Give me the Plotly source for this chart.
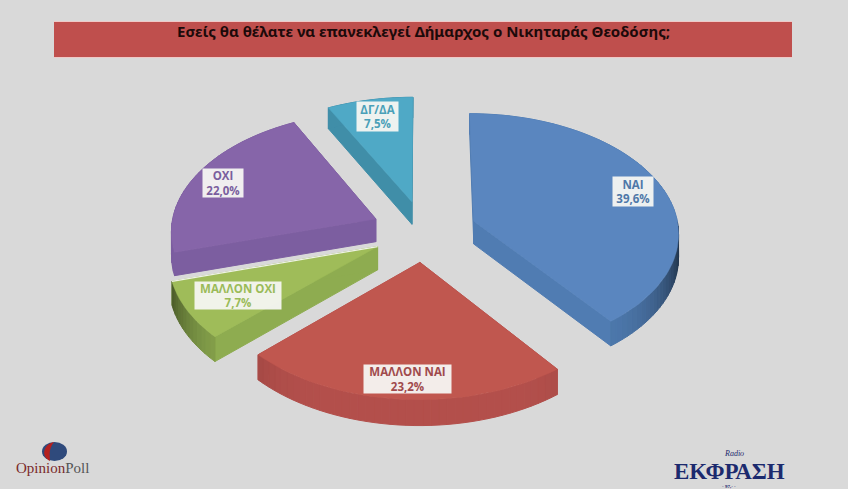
import math
import plotly.graph_objects as go

categories = ["ΝΑΙ", "ΜΑΛΛΟΝ ΝΑΙ", "ΜΑΛΛΟΝ ΟΧΙ", "ΟΧΙ", "ΔΓ/ΔΑ"]
values = [39.6, 23.2, 7.7, 22.0, 7.5]
title_text = "Εσείς θα θέλατε να επανεκλεγεί Δήμαρχος ο Νικηταράς Θεοδόσης;"

top_colors = ["#5a86bf", "#c0574f", "#9fbc59", "#8665a9", "#4fa9c6"]
side_colors = [(80, 124, 178), (180, 80, 76), (142, 172, 80), (124, 94, 160), (64, 142, 168)]
text_colors = ["#4f78a8", "#a04a4c", "#9bbb59", "#7a5e9e", "#4aa0b8"]
label_centers = [(633, 191), (407, 379), (238, 295), (223, 183), (377, 116)]
label_sizes = [(40, 29), (87, 28), (86, 27), (40, 28), (41, 29)]

CX, CY, R, TILT, PERSP, EXPLODE, DEPTH = 424, 231, 205, 0.58, 0.09, 53, 23
draw_order = [4, 3, 2, 0, 1]
EDGE_HIGHLIGHT_SLICE = 2


def project(gx, gy, drop=0.0):
    s = 1 / (1 + PERSP * gy / R)
    return CX + gx * s, CY - gy * TILT * s + drop * s


def slice_geometry(start, sweep):
    mid = math.radians(start + sweep / 2)
    ox, oy = EXPLODE * math.sin(mid), EXPLODE * math.cos(mid)
    n = max(6, int(sweep / 2))
    rim = []
    for i in range(n + 1):
        a = math.radians(start + sweep * i / n)
        rim.append((ox + R * math.sin(a), oy + R * math.cos(a), start + sweep * i / n))
    return (ox, oy), rim


def poly(points, color, width=1.0):
    xs, ys = zip(*points)
    return go.Scatter(x=list(xs) + [xs[0]], y=list(ys) + [ys[0]], mode="lines", fill="toself",
                      fillcolor=color, line=dict(color=color, width=width),
                      hoverinfo="skip", showlegend=False)


def rgb(c, f=1.0):
    return "rgb(%d,%d,%d)" % tuple(min(255, int(v * f)) for v in c)


def rim_shade(angle):
    rad = math.radians(angle)
    if math.cos(rad) >= 0 or angle > 253:
        return 1.0
    return 1.0 - 0.6 * abs(math.sin(rad)) ** 6


fig = go.Figure()
angles = []
acc = 0.0
for v in values:
    angles.append((acc * 3.6, v * 3.6))
    acc += v

for idx in draw_order:
    start, sweep = angles[idx]
    apex, rim = slice_geometry(start, sweep)
    side = side_colors[idx]
    for end in (rim[0], rim[-1]):
        fig.add_trace(poly([project(apex[0], apex[1]), project(end[0], end[1]),
                            project(end[0], end[1], DEPTH), project(apex[0], apex[1], DEPTH)], rgb(side)))
    for p, q in zip(rim, rim[1:]):
        fig.add_trace(poly([project(p[0], p[1]), project(q[0], q[1]),
                            project(q[0], q[1], DEPTH), project(p[0], p[1], DEPTH)], rgb(side, rim_shade(p[2]))))
    top = [project(apex[0], apex[1])] + [project(p[0], p[1]) for p in rim]
    fig.add_trace(poly(top, top_colors[idx], 0.5))
    if idx == EDGE_HIGHLIGHT_SLICE:
        a, b = project(apex[0], apex[1]), project(rim[-1][0], rim[-1][1])
        fig.add_trace(go.Scatter(x=[a[0], b[0]], y=[a[1], b[1]], mode="lines",
                                 line=dict(color="#eef2e6", width=1.2), hoverinfo="skip", showlegend=False))

annotations = []
for name, v, col, (lx, ly), (w, h) in zip(categories, values, text_colors, label_centers, label_sizes):
    annotations.append(dict(x=lx, y=ly, xref="x", yref="y", showarrow=False,
                            text="<b>%s</b><br><b>%s%%</b>" % (name, ("%.1f" % v).replace(".", ",")),
                            font=dict(family="Open Sans", size=11.5, color=col), align="center",
                            bgcolor="rgba(245,245,242,0.95)", width=w, height=h, borderpad=0))
annotations += [
    dict(x=423, y=31, xref="x", yref="y", showarrow=False, text="<b>%s</b>" % title_text,
         font=dict(family="Noto Sans", size=15, color="#1c0a0a")),
    dict(x=14, y=468, xref="x", yref="y", showarrow=False, xanchor="left",
         text="<span style='color:#7a2a2a'>Opinion</span><span style='color:#555'>Poll</span>",
         font=dict(family="Liberation Serif", size=15)),
    dict(x=729, y=471, xref="x", yref="y", showarrow=False, text="<b>ΕΚΦΡΑΣΗ</b>",
         font=dict(family="Liberation Serif", size=23, color="#1c2a6e")),
    dict(x=734, y=453, xref="x", yref="y", showarrow=False, text="<i>Radio</i>",
         font=dict(family="Liberation Serif", size=8, color="#1c2a6e")),
    dict(x=729, y=486, xref="x", yref="y", showarrow=False, text="<b>· 97,· ·</b>",
         font=dict(family="Liberation Serif", size=5, color="#1c2a6e")),
]

shapes = [
    dict(type="rect", x0=54, x1=792, y0=21, y1=58, xref="x", yref="y", layer="below",
         fillcolor="#efc9c7", line=dict(width=0)),
    dict(type="rect", x0=54, x1=792, y0=22, y1=57, xref="x", yref="y", layer="below",
         fillcolor="#bf4f4d", line=dict(width=0)),
    dict(type="circle", x0=42, x1=67, y0=442, y1=461, xref="x", yref="y",
         fillcolor="#2f4a7c", line=dict(width=0)),
    dict(type="path", path="M 54 442 C 44 444 40 456 50 461 C 50 455 48 450 54 442 Z", xref="x", yref="y",
         fillcolor="#b4201f", line=dict(width=0)),
]

fig.update_layout(width=848, height=489, margin=dict(l=0, r=0, t=0, b=0),
                  paper_bgcolor="#d9d9d9", plot_bgcolor="#d9d9d9",
                  xaxis=dict(range=[0, 848], visible=False, fixedrange=True),
                  yaxis=dict(range=[489, 0], visible=False, fixedrange=True),
                  annotations=annotations, shapes=shapes, showlegend=False)
fig.write_html("out.html", config=dict(displayModeBar=False),
               post_script="document.body.style.margin='0';document.body.style.overflow='hidden';"
                           "document.documentElement.style.background='#d9d9d9';")
